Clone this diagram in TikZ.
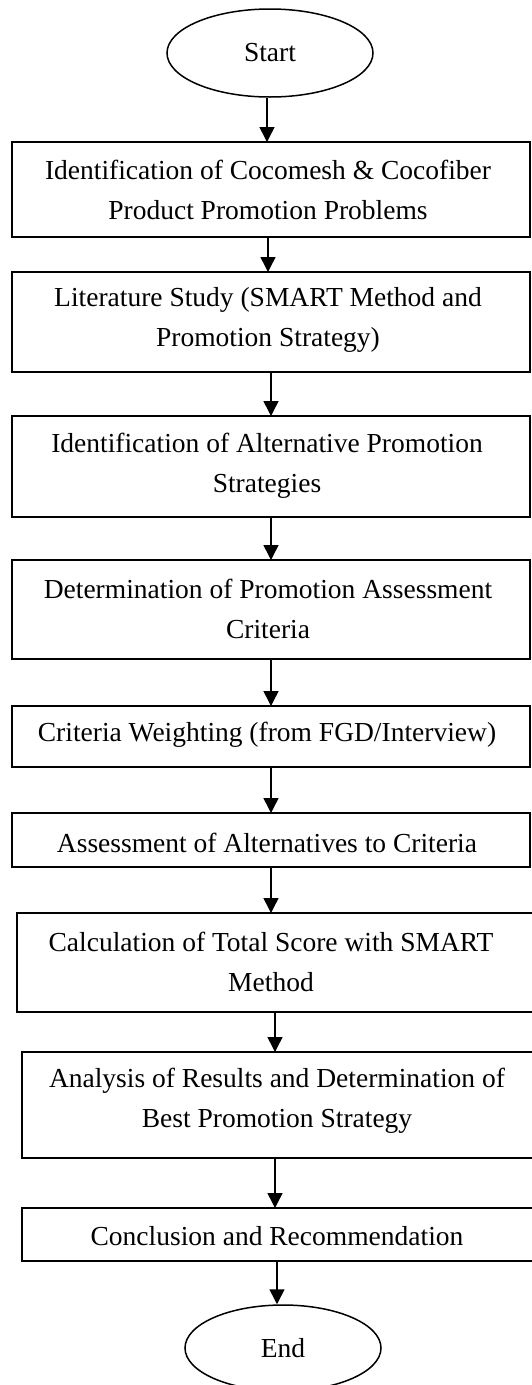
\documentclass[tikz,border=0pt]{standalone}
\usepackage{fontspec}
\setmainfont{Liberation Serif}
\usetikzlibrary{arrows.meta,shapes.geometric}
\begin{document}
\begin{tikzpicture}[x=1pt,y=-1pt,
  boxframe/.style={draw=black, line width=1.5pt, rectangle, anchor=north west, inner sep=0pt, outer sep=0pt},
  label/.style={font=\fontsize{27.5}{40}\selectfont, align=center, inner sep=0pt},
  term/.style={draw=black, line width=1.5pt, ellipse, inner sep=0pt, font=\fontsize{27.5}{40}\selectfont},
  arr/.style={line width=1.5pt, -{Triangle[length=15pt,width=15pt]}}]
\useasboundingbox (0,0) rectangle (531,1385);
% terminals
\node[term, minimum width=206pt, minimum height=88pt] (start) at (270,53) {Start};
\node[term, minimum width=196pt, minimum height=86pt] (end) at (283,1348) {End};
% boxes
\node[boxframe, minimum width=518pt, minimum height=95pt] (b1) at (12,142) {};
\node[boxframe, minimum width=518pt, minimum height=100pt] (b2) at (12,272) {};
\node[boxframe, minimum width=518pt, minimum height=101pt] (b3) at (12,416) {};
\node[boxframe, minimum width=518pt, minimum height=99pt] (b4) at (12,560) {};
\node[boxframe, minimum width=518pt, minimum height=61pt] (b5) at (12,706) {};
\node[boxframe, minimum width=518pt, minimum height=54pt] (b6) at (12,813) {};
\node[boxframe, minimum width=528pt, minimum height=99pt] (b7) at (17,913) {};
\node[boxframe, minimum width=523pt, minimum height=106pt] (b8) at (22,1052) {};
\node[boxframe, minimum width=523pt, minimum height=53pt] (b9) at (22,1208) {};
% texts
\node[label] (t1) at (268,190) {Identification of Cocomesh \& Cocofiber\\Product Promotion Problems};
\node[label] (t2) at (268,320) {Literature Study (SMART Method and\\Promotion Strategy)};
\node[label] (t3) at (267,466) {Identification of Alternative Promotion\\Strategies};
\node[label] (t4) at (268,609) {Determination of Promotion Assessment\\Criteria};
\node[label] (t5) at (267,735) {Criteria Weighting (from FGD/Interview)};
\node[label] (t6) at (267,843) {Assessment of Alternatives to Criteria};
\node[label] (t7) at (271,962) {Calculation of Total Score with SMART\\Method};
\node[label] (t8) at (277,1101) {Analysis of Results and Determination of\\Best Promotion Strategy};
\node[label] (t9) at (277,1236) {Conclusion and Recommendation};
% arrow columns
\coordinate (x1) at (267,0);
\coordinate (x2) at (268,0);
\coordinate (x3) at (271,0);
\coordinate (x7) at (275,0);
\coordinate (x9) at (277,0);
\draw[arr] (start.south -| x1) -- (b1.north -| x1);
\draw[arr] (b1.south -| x2) -- (b2.north -| x2);
\draw[arr] (b2.south -| x3) -- (b3.north -| x3);
\draw[arr] (b3.south -| x3) -- (b4.north -| x3);
\draw[arr] (b4.south -| x3) -- (b5.north -| x3);
\draw[arr] (b5.south -| x3) -- (b6.north -| x3);
\draw[arr] (b6.south -| x3) -- (b7.north -| x3);
\draw[arr] (b7.south -| x7) -- (b8.north -| x7);
\draw[arr] (b8.south -| x7) -- (b9.north -| x7);
\draw[arr] (b9.south -| x9) -- (end.north -| x9);
\end{tikzpicture}
\end{document}
